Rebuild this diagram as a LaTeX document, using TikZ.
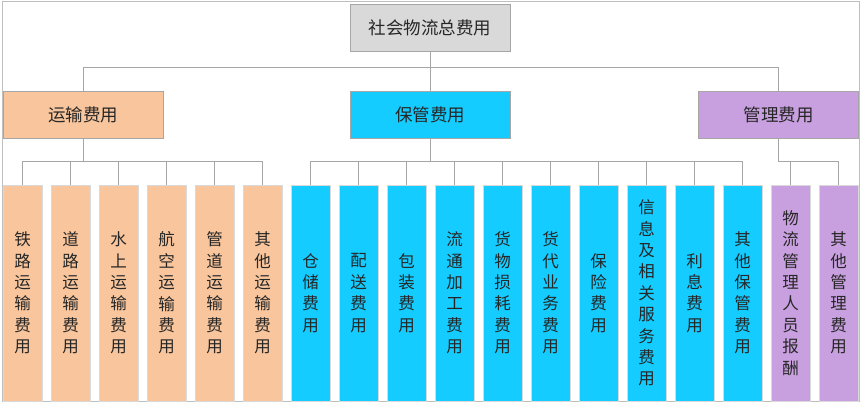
\documentclass[tikz,border=0pt]{standalone}
\usepackage{fontspec}
\setmainfont{Noto Sans CJK SC}
\usetikzlibrary{positioning}
\definecolor{peach}{HTML}{F8C59C}
\definecolor{skyc}{HTML}{14CCFF}
\definecolor{lilac}{HTML}{C9A0DF}
\definecolor{topgray}{HTML}{D9D9D9}
\definecolor{linegray}{HTML}{A6A6A6}
\tikzset{
  head/.style={draw=linegray, line width=0.9pt, minimum width=160pt, minimum height=47pt,
    inner sep=0pt, outer sep=0pt, text=black!85, font=\fontsize{17.5}{20}\selectfont},
  leaf/.style={draw=black!15, line width=0.9pt, minimum width=39pt, minimum height=216pt,
    inner sep=0pt, outer sep=0pt, align=center, text=black!85, font=\fontsize{16.5}{21.4}\selectfont},
  link/.style={draw=linegray, line width=0.9pt}
}
\begin{document}
\begin{tikzpicture}[x=1pt, y=-1pt, node distance=9pt]
    \useasboundingbox (0,0) rectangle (862,405);
    \draw [black!25, line width=0.8pt] (2,1) rectangle (859,401);
    % top and second level
    \node [head, fill=topgray] (total) at (430,27.5) {社会物流总费用};
    \node [head, fill=peach] (yunshu) at (83,114.5) {运输费用};
    \node [head, fill=skyc] (baoguan) at (430,114.5) {保管费用};
    \node [head, fill=lilac] (guanli) at (778.5,114.5) {管理费用};
    % leaves
    \node [leaf, fill=peach] (y1) at (22.5,293) {铁\\路\\运\\输\\费\\用};
    \node [leaf, fill=peach] (y2) [right=of y1] {道\\路\\运\\输\\费\\用};
    \node [leaf, fill=peach] (y3) [right=of y2] {水\\上\\运\\输\\费\\用};
    \node [leaf, fill=peach] (y4) [right=of y3] {航\\空\\运\\输\\费\\用};
    \node [leaf, fill=peach] (y5) [right=of y4] {管\\道\\运\\输\\费\\用};
    \node [leaf, fill=peach] (y6) [right=of y5] {其\\他\\运\\输\\费\\用};
    \node [leaf, fill=skyc] (b1) [right=of y6] {仓\\储\\费\\用};
    \node [leaf, fill=skyc] (b2) [right=of b1] {配\\送\\费\\用};
    \node [leaf, fill=skyc] (b3) [right=of b2] {包\\装\\费\\用};
    \node [leaf, fill=skyc] (b4) [right=of b3] {流\\通\\加\\工\\费\\用};
    \node [leaf, fill=skyc] (b5) [right=of b4] {货\\物\\损\\耗\\费\\用};
    \node [leaf, fill=skyc] (b6) [right=of b5] {货\\代\\业\\务\\费\\用};
    \node [leaf, fill=skyc] (b7) [right=of b6] {保\\险\\费\\用};
    \node [leaf, fill=skyc] (b8) [right=of b7] {信\\息\\及\\相\\关\\服\\务\\费\\用};
    \node [leaf, fill=skyc] (b9) [right=of b8] {利\\息\\费\\用};
    \node [leaf, fill=skyc] (b10) [right=of b9] {其\\他\\保\\管\\费\\用};
    \node [leaf, fill=lilac] (g1) [right=of b10] {物\\流\\管\\理\\人\\员\\报\\酬};
    \node [leaf, fill=lilac] (g2) [right=of g1] {其\\他\\管\\理\\费\\用};
    % connectors
    \path [link] (total.south) -- ++(0,16) coordinate (bus0);
    \path [link] (bus0) -| (yunshu.north);
    \path [link] (bus0) -| (guanli.north);
    \path [link] (bus0) -- (baoguan.north);
    \foreach \i in {1,...,6}
        \path [link] (yunshu.south) -- ++(0,23) -| (y\i.north);
    \foreach \i in {1,...,10}
        \path [link] (baoguan.south) -- ++(0,23) -| (b\i.north);
    \foreach \i in {1,2}
        \path [link] (guanli.south) -- ++(0,23) -| (g\i.north);
\end{tikzpicture}
\end{document}
